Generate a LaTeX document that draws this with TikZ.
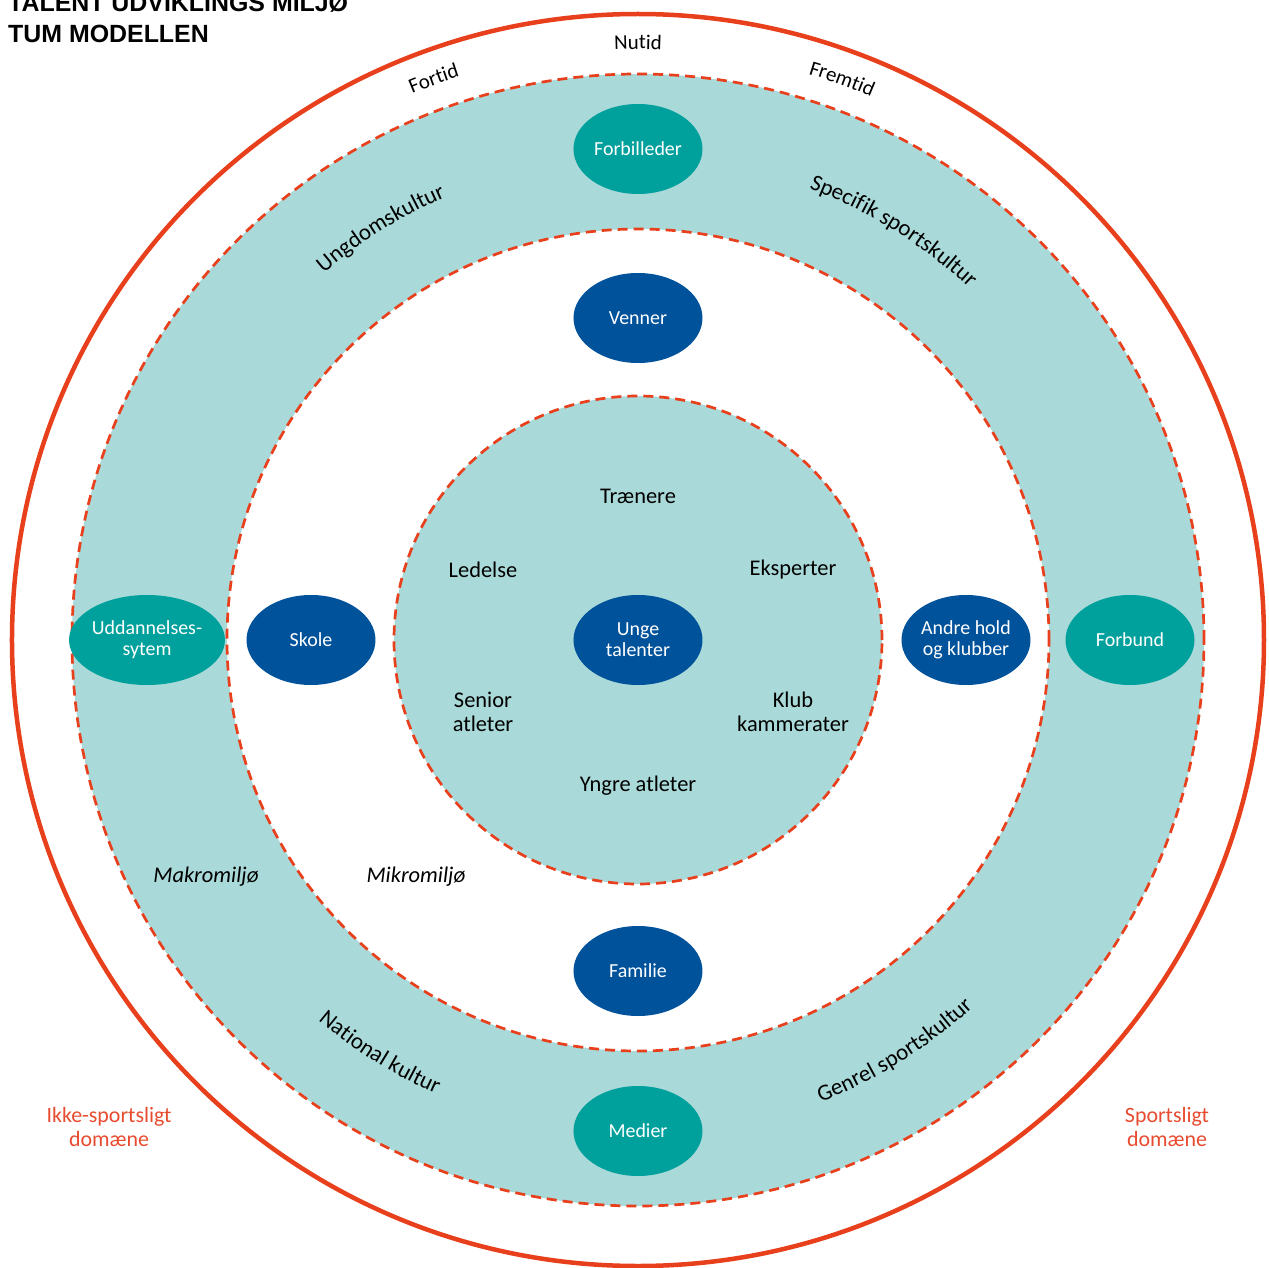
\documentclass[tikz,border=0pt]{standalone}
\usepackage{fontspec}
\setmainfont{Carlito}
\newfontfamily\titlefont{Liberation Sans}
\usetikzlibrary{shapes.geometric,decorations.text}
\definecolor{ringteal}{RGB}{169,217,216}
\definecolor{darkteal}{RGB}{0,160,157}
\definecolor{nodeblue}{RGB}{0,82,155}
\definecolor{mred}{RGB}{232,64,28}
\definecolor{labelred}{RGB}{232,76,48}
\begin{document}
\begin{tikzpicture}[x=1bp,y=1bp,
  ringdash/.style={draw=mred, line width=2.7bp, dash pattern=on 10bp off 6bp},
  tealnode/.style={ellipse, fill=darkteal, text=white, minimum width=129bp, minimum height=90bp, inner sep=0pt, align=center, font=\fontsize{20}{21}\selectfont},
  bluenode/.style={tealnode, fill=nodeblue},
  inlabel/.style={align=center, font=\fontsize{22.5}{24}\selectfont, text=black, inner sep=0pt},
  envlabel/.style={inlabel, font=\fontsize{22.5}{24}\selectfont\itshape},
  domlabel/.style={align=center, font=\fontsize{22}{24}\selectfont, text=labelred, inner sep=0pt},
  titlestyle/.style={anchor=base west, inner sep=0pt, font=\titlefont\bfseries\fontsize{25}{30}\selectfont},
  ringtext/.style={decorate, decoration={text along path, text align=center, text={|\fontsize{23}{24}\selectfont|#1}}},
  timetext/.style={decorate, decoration={text along path, text align=center, text={|\fontsize{21}{22}\selectfont|#1}}}
]
\useasboundingbox (-638,-628) rectangle (631,640);
\fill[white] (-638,-628) rectangle (631,640);

% rings
\draw[mred, line width=4.5bp] (0,0) circle[radius=626];
\fill[ringteal] (0,0) circle[radius=566];
\fill[white] (0,0) circle[radius=411];
\fill[ringteal] (0,0) circle[radius=244];
\draw[ringdash] (0,0) circle[radius=566];
\draw[ringdash] (0,0) circle[radius=411];
\draw[ringdash] (0,0) circle[radius=244];

% title
\node[titlestyle] (title1) at (-630,628) {TALENT UDVIKLINGS MILJØ};
\node[titlestyle] (title2) at (-630,597) {TUM MODELLEN};

% time labels
\path[timetext={Fortid}] (140:591) arc[start angle=140, end angle=80, radius=591];
\path[timetext={Nutid}] (120:591) arc[start angle=120, end angle=60, radius=591];
\path[timetext={Fremtid}] (100:591) arc[start angle=100, end angle=40, radius=591];

% ring labels
\path[ringtext={Ungdomskultur}] (160:483) arc[start angle=160, end angle=84, radius=483];
\path[ringtext={Specifik sportskultur}] (96:483) arc[start angle=96, end angle=20, radius=483];
\path[ringtext={National kultur}] (200:497) arc[start angle=200, end angle=276, radius=497];
\path[ringtext={Genrel sportskultur}] (264:497) arc[start angle=264, end angle=340, radius=497];

% ellipses
\node[tealnode] (forbilleder) at (0,491) {Forbilleder};
\node[tealnode] (medier) at (0,-491) {Medier};
\node[tealnode] (uddannelse) at (-491,0) {Uddannelses-\\sytem};
\node[tealnode] (forbund) at (492,0) {Forbund};
\node[bluenode] (venner) at (0,322) {Venner};
\node[bluenode] (familie) at (0,-331) {Familie};
\node[bluenode] (skole) at (-327,0) {Skole};
\node[bluenode] (andre) at (328,0) {Andre hold\\og klubber};
\node[bluenode] (unge) at (0,0) {Unge\\talenter};

% inner labels
\node[inlabel] (traenere) at (0,144) {Trænere};
\node[inlabel] (ledelse) at (-155,70) {Ledelse};
\node[inlabel] (eksperter) at (155,70) {Eksperter};
\node[inlabel] (senior) at (-155,-72) {Senior\\atleter};
\node[inlabel] (klub) at (155,-72) {Klub\\kammerater};
\node[inlabel] (yngre) at (0,-146) {Yngre atleter};

% environment labels
\node[envlabel] (makro) at (-432,-237) {Makromiljø};
\node[envlabel] (mikro) at (-222,-237) {Mikromiljø};

% domain labels
\node[domlabel] (ikke) at (-529,-487) {Ikke-sportsligt\\domæne};
\node[domlabel] (sports) at (529,-487) {Sportsligt\\domæne};
\end{tikzpicture}
\end{document}
